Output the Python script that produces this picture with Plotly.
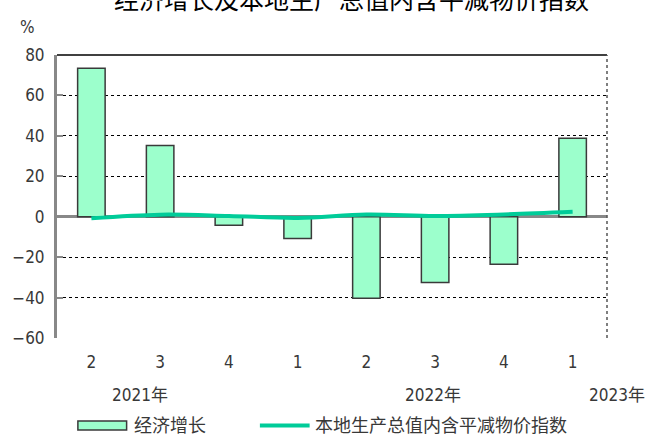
import plotly.graph_objects as go

quarters = ["2", "3", "4", "1", "2", "3", "4", "1"]
years = ["2021年", "2022年", "2023年"]
growth = [73.5, 35.2, -4.2, -10.8, -40.3, -32.5, -23.5, 38.8]
deflator = [-0.8, 1.0, 0.4, -0.6, 1.1, 0.4, 1.1, 2.4]
title = "经济增长及本地生产总值内含平减物价指数"
bar_name = "经济增长"
line_name = "本地生产总值内含平减物价指数"

W, H = 646, 437
L, R, T, B = 54, 607, 55, 338
CJK = "Noto Sans CJK SC"
NUM = "DejaVu Sans Condensed, Liberation Sans, Noto Sans CJK SC"
GREY = "#383838"


def px(xp):
    return (xp - L) / (R - L)


def py(yp):
    return (B - yp) / (B - T)


xs = list(range(len(quarters)))

fig = go.Figure()
fig.add_trace(go.Bar(
    x=xs, y=growth, name=bar_name, width=0.4,
    marker=dict(color="#9CFFCC", line=dict(color="#3a3a3a", width=1.5)),
    showlegend=False,
))
fig.add_trace(go.Scatter(
    x=xs, y=deflator, name=line_name, mode="lines",
    line=dict(color="#00CC99", width=4, shape="spline", smoothing=1.0),
    showlegend=False,
))

shapes = [
    dict(type="line", xref="paper", yref="paper", x0=0, x1=1, y0=1, y1=1,
         line=dict(color="black", width=1.5)),
    dict(type="line", xref="paper", yref="paper", x0=1, x1=1, y0=0, y1=1,
         line=dict(color="#555555", width=1.5, dash="dot")),
    dict(type="rect", xref="paper", yref="paper", x0=px(75), x1=px(124),
         y0=py(430), y1=py(421), fillcolor="#9CFFCC",
         line=dict(color="#3a3a3a", width=1.5)),
    dict(type="line", xref="paper", yref="paper", x0=px(258), x1=px(308),
         y0=py(425.5), y1=py(425.5), line=dict(color="#00CC99", width=4)),
]

annotations = [
    dict(text=title, xref="paper", yref="paper", x=px(350), y=py(-2),
         xanchor="center", yanchor="middle", showarrow=False,
         font=dict(family=CJK, size=25, color="black")),
    dict(text="%", xref="paper", yref="paper", x=px(24), y=py(27),
         xanchor="center", yanchor="middle", showarrow=False,
         font=dict(family=NUM, size=17, color=GREY)),
    dict(text=bar_name, xref="paper", yref="paper", x=px(129), y=py(424),
         xanchor="left", yanchor="middle", showarrow=False,
         font=dict(family=CJK, size=18, color=GREY)),
    dict(text=line_name, xref="paper", yref="paper", x=px(311), y=py(424),
         xanchor="left", yanchor="middle", showarrow=False,
         font=dict(family=CJK, size=18, color=GREY)),
]
year_x = [137, 432, 617]
for yl, xp in zip(years, year_x):
    annotations.append(dict(
        text=yl, xref="paper", yref="paper", x=px(xp), y=py(395),
        xanchor="center", yanchor="middle", showarrow=False,
        font=dict(family=NUM, size=17, color=GREY)))

fig.update_layout(
    width=W, height=H,
    margin=dict(l=L, r=W - R, t=T, b=H - B, pad=0),
    paper_bgcolor="white", plot_bgcolor="white",
    bargap=0.6,
    shapes=shapes, annotations=annotations,
    xaxis=dict(
        range=[-0.5, 7.5], tickmode="array", tickvals=xs, ticktext=quarters,
        showgrid=False, zeroline=False, showline=False, ticks="",
        tickfont=dict(family=NUM, size=17, color=GREY),
        ticklabelstandoff=12, fixedrange=True,
    ),
    yaxis=dict(
        range=[-60, 80], dtick=20, tick0=0,
        showgrid=True, gridcolor="black", gridwidth=1, griddash="dot",
        zeroline=True, zerolinecolor="#888888", zerolinewidth=2.5,
        showline=True, linecolor="#888888", linewidth=3,
        ticks="inside", ticklen=6, tickwidth=2, tickcolor="#888888",
        tickfont=dict(family=NUM, size=17, color=GREY),
        ticklabelstandoff=6, fixedrange=True,
    ),
)

fig.write_html(
    "out.html",
    config={"displayModeBar": False},
    post_script="document.body.style.margin='0';document.body.style.overflow='hidden';",
)
